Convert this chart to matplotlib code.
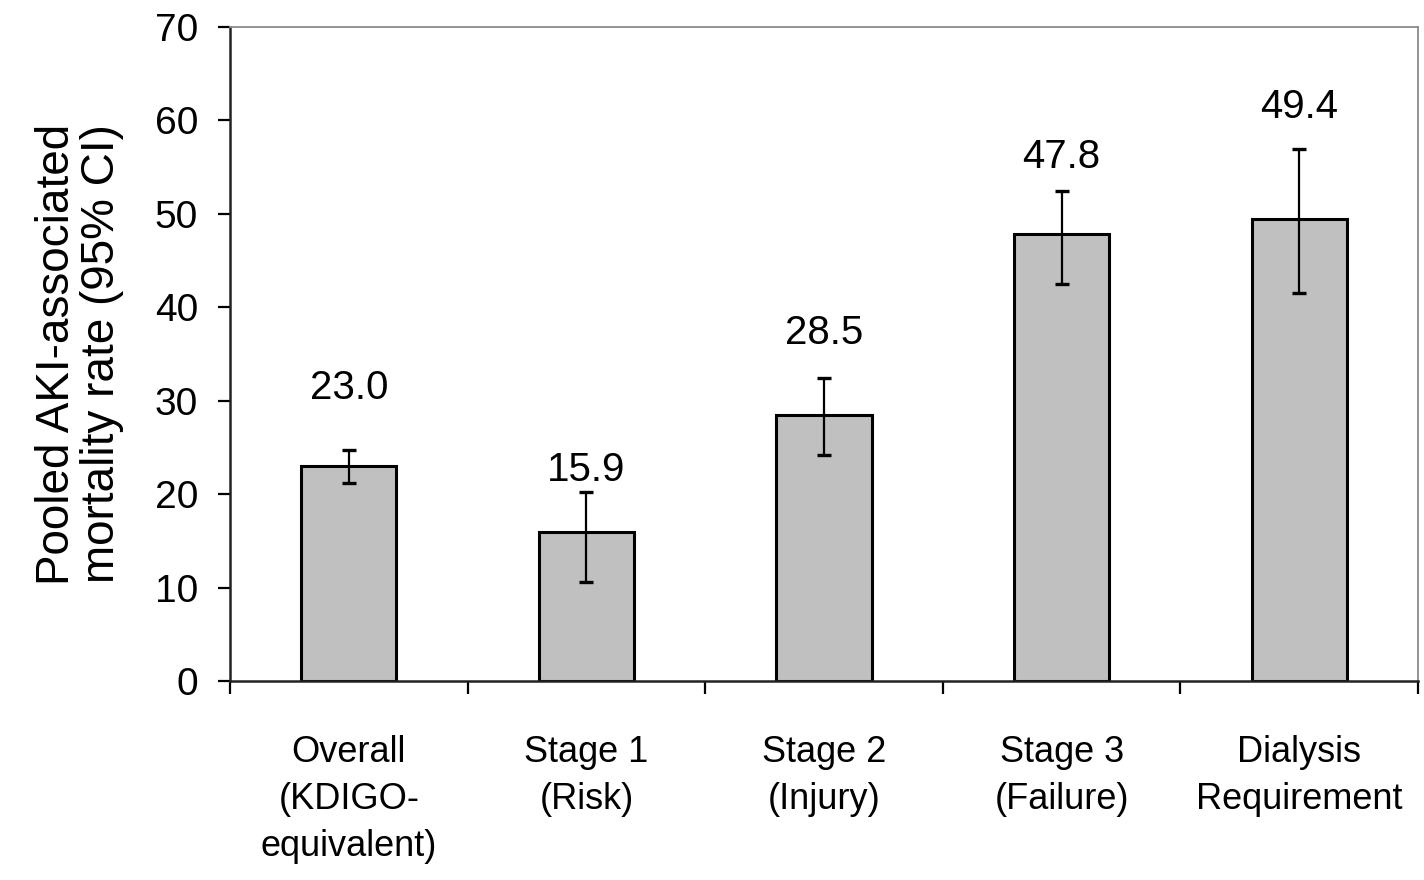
import numpy as np
import matplotlib.pyplot as plt
from matplotlib.ticker import FixedLocator, NullFormatter

plt.rcParams['font.family'] = ['Liberation Sans', 'DejaVu Sans']

categories = ['Overall\n(KDIGO-\nequivalent)', 'Stage 1\n(Risk)', 'Stage 2\n(Injury)',
              'Stage 3\n(Failure)', 'Dialysis\nRequirement']
rates = [23.0, 15.9, 28.5, 47.8, 49.4]
ci_low = [21.2, 10.6, 24.2, 42.5, 41.5]
ci_high = [24.7, 20.2, 32.4, 52.5, 56.9]
label_heights = [31.4, 22.6, 37.3, 56.1, 61.4]  # where the value labels sit

x = np.arange(len(rates))
err = [np.array(rates) - np.array(ci_low), np.array(ci_high) - np.array(rates)]

fig = plt.figure(figsize=(14.24, 8.8), dpi=100)
ax = fig.add_axes([0.1615, 0.2261, 0.8343, 0.7432])

ax.bar(x, rates, width=0.40, color='#c0c0c0', edgecolor='black', linewidth=2.2, zorder=2)
ax.errorbar(x, rates, yerr=err, fmt='none', ecolor='black', elinewidth=1.6,
            capsize=5, capthick=2.4, zorder=3)

for xi, r, h in zip(x, rates, label_heights):
    ax.text(xi, h, f'{r:.1f}', ha='center', va='center', fontsize=29)

ax.set_xlim(-0.5, 4.5)
ax.set_ylim(0, 70)
ax.set_yticks(np.arange(0, 71, 10))
ax.tick_params(axis='y', labelsize=28, length=9, width=1.6, pad=14, direction='out')

ax.set_xticks(x)
ax.set_xticklabels(categories, fontsize=26, linespacing=1.45)
ax.tick_params(axis='x', which='major', length=0, pad=39)
ax.xaxis.set_minor_locator(FixedLocator(np.arange(-0.5, 5.0, 1.0)))
ax.xaxis.set_minor_formatter(NullFormatter())
ax.tick_params(axis='x', which='minor', length=9, width=1.6, direction='out')

for s in ['left', 'bottom']:
    ax.spines[s].set_linewidth(1.8)
    ax.spines[s].set_color('#222222')
for s in ['top', 'right']:
    ax.spines[s].set_linewidth(1.3)
    ax.spines[s].set_color('#8a8a8a')

ax.set_ylabel('Pooled AKI-associated\nmortality rate (95% CI)', fontsize=33,
              linespacing=1.02, labelpad=22)

fig.savefig('out.png', dpi=100)
